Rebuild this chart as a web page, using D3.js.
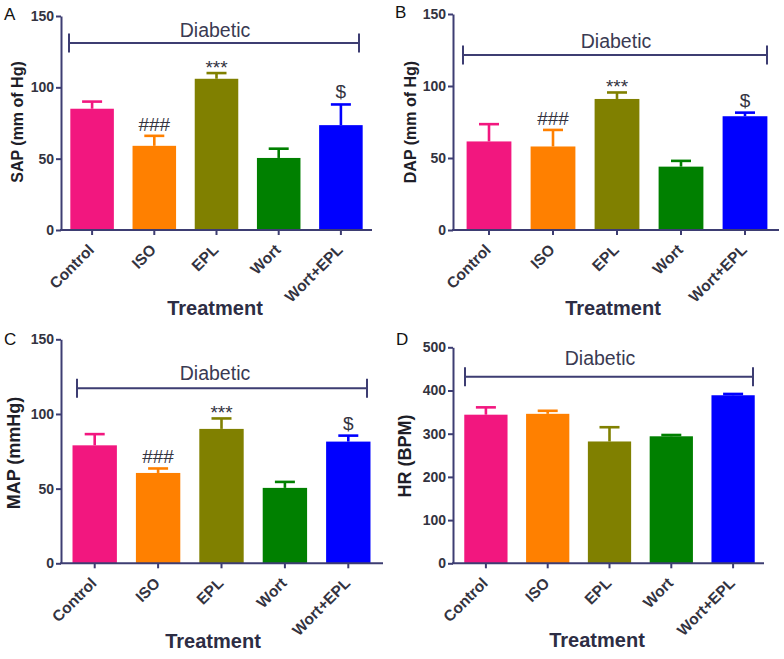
<!DOCTYPE html>
<html><head><meta charset="utf-8">
<script src="https://cdn.jsdelivr.net/npm/d3@7"></script>
<style>body{margin:0;background:#fff}svg{display:block}</style>
</head><body>
<svg id="chart" width="784" height="659"></svg>
<script>
const categories = ["Control", "ISO", "EPL", "Wort", "Wort+EPL"];
const barColors = ["#f2177f", "#ff8000", "#808000", "#008000", "#0000ff"];
const sapMean = [85, 59, 106, 50.5, 73.5];
const sapErr = [5, 7, 4, 6.5, 14.5];
const dapMean = [61.5, 58, 91, 44, 79];
const dapErr = [12, 11.5, 4.5, 4, 2.5];
const mapMean = [79, 60.5, 90, 50.5, 81.5];
const mapErr = [7.5, 3, 7, 4, 4];
const hrMean = [344, 346, 282, 294, 389];
const hrErr = [17, 7, 33, 3, 3];
const bpTicks = [0, 50, 100, 150];
const hrTicks = [0, 100, 200, 300, 400, 500];
const bpMarks = ["", "###", "***", "", "$"];
const hrMarks = ["", "", "", "", ""];
const groupLabel = "Diabetic";
const xTitle = "Treatment";

const panels = [
  {letter:"A", lx:4, ly:20, ax:61, y0:230, yTop:16, xEnd:372, band:[61,372], yMax:150, ticks:bpTicks,
   mean:sapMean, err:sapErr, marks:bpMarks, ylabel:"SAP (mm of Hg)", ylx:17, yly:122, yls:16,
   brVal:131, brX0:69, brX1:359, glX:215, glGap:6, tX:215, tY:315},
  {letter:"B", lx:395, ly:18, ax:453, y0:230, yTop:14, xEnd:779, band:[457,777], yMax:150, ticks:bpTicks,
   mean:dapMean, err:dapErr, marks:bpMarks, ylabel:"DAP (mm of Hg)", ylx:410, yly:122, yls:16,
   brVal:121.5, brX0:463, brX1:767, glX:616, glGap:7, tX:613, tY:315},
  {letter:"C", lx:4, ly:345, ax:61, y0:563.3, yTop:339.3, xEnd:383, band:[63,380], yMax:150, ticks:bpTicks,
   mean:mapMean, err:mapErr, marks:bpMarks, ylabel:"MAP (mmHg)", ylx:14, yly:453, yls:18,
   brVal:117.2, brX0:77, brX1:367, glX:215, glGap:8, tX:213, tY:648},
  {letter:"D", lx:396, ly:345, ax:453, y0:563.3, yTop:347.3, xEnd:764, band:[455,764], yMax:500, ticks:hrTicks,
   mean:hrMean, err:hrErr, marks:hrMarks, ylabel:"HR (BPM)", ylx:405, yly:456, yls:18,
   brVal:432, brX0:465, brX1:753, glX:600, glGap:12, tX:597, tY:647}
];

const axisColor = "#3d3d72";
const textColor = "#33333f";
const svg = d3.select("#chart");

panels.forEach(p => {
  const g = svg.append("g");
  const x = d3.scaleBand().domain(categories).range(p.band).paddingInner(0.3).paddingOuter(0.15);
  const y = d3.scaleLinear().domain([0, p.yMax]).range([p.y0, p.yTop]);
  const rows = categories.map((c, i) => ({c, m:p.mean[i], e:p.err[i], col:barColors[i], mark:p.marks[i]}));

  // bars
  g.selectAll("rect.bar").data(rows).join("rect")
    .attr("x", d => x(d.c)).attr("width", x.bandwidth())
    .attr("y", d => y(d.m)).attr("height", d => y(0) - y(d.m))
    .attr("fill", d => d.col);

  // error bars
  const capW = 20;
  g.selectAll("line.stem").data(rows).join("line")
    .attr("x1", d => x(d.c) + x.bandwidth()/2).attr("x2", d => x(d.c) + x.bandwidth()/2)
    .attr("y1", d => y(d.m)).attr("y2", d => y(d.m + d.e))
    .attr("stroke", d => d.col).attr("stroke-width", 2.6);
  g.selectAll("line.cap").data(rows).join("line")
    .attr("x1", d => x(d.c) + x.bandwidth()/2 - capW/2).attr("x2", d => x(d.c) + x.bandwidth()/2 + capW/2)
    .attr("y1", d => y(d.m + d.e)).attr("y2", d => y(d.m + d.e))
    .attr("stroke", d => d.col).attr("stroke-width", 2.6);

  // significance marks
  const markOff = {"###": -5, "***": 1, "$": -6};
  g.selectAll("text.mark").data(rows.filter(d => d.mark)).join("text")
    .attr("x", d => x(d.c) + x.bandwidth()/2)
    .attr("y", d => y(d.m + d.e) + markOff[d.mark])
    .attr("text-anchor", "middle")
    .attr("font-family", "Liberation Sans, Arial, sans-serif")
    .attr("font-size", 19).attr("fill", textColor)
    .text(d => d.mark);

  // y axis
  const yAxis = g.append("g").attr("transform", `translate(${p.ax},0)`)
    .call(d3.axisLeft(y).tickValues(p.ticks).tickSize(5).tickPadding(2).tickSizeOuter(0));
  yAxis.select(".domain").attr("stroke", axisColor).attr("stroke-width", 2);
  yAxis.selectAll(".tick line").attr("stroke", axisColor).attr("stroke-width", 2);
  yAxis.selectAll(".tick text").attr("font-family", "Liberation Sans, Arial, sans-serif")
    .attr("font-size", 14).attr("font-weight", "bold").attr("fill", textColor);

  // x axis
  const xAxis = g.append("g").attr("transform", `translate(0,${p.y0})`)
    .call(d3.axisBottom(x).tickSize(5).tickSizeOuter(0));
  xAxis.select(".domain").remove();
  xAxis.selectAll(".tick line").attr("stroke", axisColor).attr("stroke-width", 2);
  xAxis.selectAll(".tick text")
    .attr("font-family", "Liberation Sans, Arial, sans-serif")
    .attr("font-size", 15.5).attr("font-weight", "bold").attr("fill", textColor)
    .attr("text-anchor", "end")
    .attr("transform", "translate(-1,17) rotate(-45)")
    .attr("y", 0).attr("dy", "0.35em");
  g.append("line").attr("x1", p.ax - 1).attr("x2", p.xEnd).attr("y1", p.y0).attr("y2", p.y0)
    .attr("stroke", axisColor).attr("stroke-width", 2);

  // group bracket
  const by = y(p.brVal);
  g.append("path").attr("d", `M${p.brX0},${by}H${p.brX1}M${p.brX0},${by-9.5}V${by+9.5}M${p.brX1},${by-9.5}V${by+9.5}`)
    .attr("stroke", axisColor).attr("stroke-width", 2).attr("fill", "none");
  g.append("text").attr("x", p.glX).attr("y", by - p.glGap).attr("text-anchor", "middle")
    .attr("font-family", "Liberation Sans, Arial, sans-serif").attr("font-size", 19.5)
    .attr("fill", "#3a3a52").text(groupLabel);

  // axis titles
  g.append("text").attr("transform", `translate(${p.ylx},${p.yly}) rotate(-90)`)
    .attr("text-anchor", "middle").attr("dy", "0.35em")
    .attr("font-family", "Liberation Sans, Arial, sans-serif").attr("font-size", p.yls)
    .attr("font-weight", "bold").attr("fill", "#1e1e28").text(p.ylabel);
  g.append("text").attr("x", p.tX).attr("y", p.tY).attr("text-anchor", "middle")
    .attr("font-family", "Liberation Sans, Arial, sans-serif").attr("font-size", 20)
    .attr("font-weight", "bold").attr("fill", "#2d2d44").text(xTitle);

  // panel letter
  g.append("text").attr("x", p.lx).attr("y", p.ly)
    .attr("font-family", "Liberation Sans, Arial, sans-serif").attr("font-size", 17)
    .attr("fill", "#111").text(p.letter);
});
</script>
</body></html>
